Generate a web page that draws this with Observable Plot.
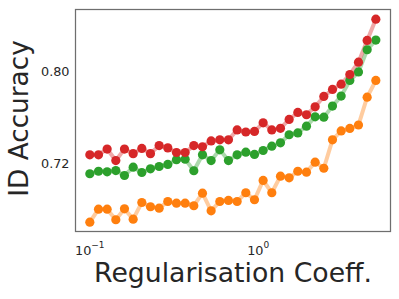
<!DOCTYPE html>
<html>
<head>
<meta charset="utf-8">
<script src="https://cdn.jsdelivr.net/npm/d3@7"></script>
<script src="https://cdn.jsdelivr.net/npm/@observablehq/plot@0.6"></script>
<style>
  html, body { margin: 0; padding: 0; background: white; }
</style>
</head>
<body>
<div id="chart"></div>
<script>
const coeffs = [0.1, 0.1126, 0.1267, 0.1427, 0.1606, 0.1809, 0.2036, 0.2292, 0.2581, 0.2905,
  0.3271, 0.3683, 0.4146, 0.4668, 0.5255, 0.5917, 0.6661, 0.7500, 0.8444, 0.9507,
  1.0703, 1.2050, 1.3567, 1.5275, 1.7197, 1.9362, 2.1799, 2.4543, 2.7632, 3.1110,
  3.5026, 3.9435, 4.4398, 5.0];
const redAcc = [0.728, 0.728, 0.733, 0.723, 0.733, 0.729, 0.7335, 0.729, 0.736, 0.734,
  0.730, 0.730, 0.736, 0.735, 0.740, 0.741, 0.741, 0.7496, 0.7478, 0.7483,
  0.7558, 0.7496, 0.751, 0.7587, 0.7648, 0.7628, 0.7697, 0.7787, 0.7848, 0.7894,
  0.7978, 0.8085, 0.8274, 0.8459];
const greenAcc = [0.7115, 0.7137, 0.7132, 0.7143, 0.710, 0.7172, 0.7126, 0.7158, 0.7178, 0.7196,
  0.7237, 0.7242, 0.7141, 0.728, 0.723, 0.7323, 0.723, 0.728, 0.7303, 0.7283,
  0.7317, 0.7355, 0.7384, 0.7454, 0.747, 0.7529, 0.761, 0.7607, 0.7703, 0.779,
  0.7926, 0.800, 0.8193, 0.8277];
const orangeAcc = [0.6694, 0.6807, 0.6807, 0.6715, 0.681, 0.672, 0.6865, 0.6828, 0.6816, 0.6874,
  0.6859, 0.6859, 0.6837, 0.6946, 0.6793, 0.6874, 0.6883, 0.6874, 0.695, 0.6889,
  0.7057, 0.695, 0.7094, 0.708, 0.7137, 0.7129, 0.7216, 0.7163, 0.741, 0.7487,
  0.7509, 0.7539, 0.7781, 0.7926];
const seriesNames = ["Series C", "Series B", "Series A"];
const seriesColors = ["#ff7f0e", "#2ca02c", "#d62728"];
const yTicks = [0.72, 0.80];
const xTicks = [0.1, 1];
const xLabel = "Regularisation Coeff.";
const yLabel = "ID Accuracy";
const seriesValues = [orangeAcc, greenAcc, redAcc];
const data = seriesNames.flatMap((s, k) => coeffs.map((c, i) => ({s, x: c, y: seriesValues[k][i]})));
const textColor = "#262626";

const chart = Plot.plot({
  width: 399, height: 299, marginLeft: 75, marginRight: 9, marginTop: 9, marginBottom: 68,
  style: {fontFamily: "'DejaVu Sans', sans-serif", background: "white", color: textColor},
  x: {type: "log", domain: [0.0822, 6.11]},
  y: {domain: [0.6613, 0.8543]},
  color: {type: "ordinal", domain: seriesNames, range: seriesColors},
  marks: [
    Plot.axisY({ticks: yTicks, tickSize: 0, tickPadding: 6, fontSize: 12.8, tickFormat: d3.format(".2f"), label: null}),
    Plot.axisX({ticks: xTicks, tickSize: 0, tickPadding: 14, fontSize: 12.8,
      tickFormat: d => "10^" + Math.round(Math.log10(d)), label: null}),
    Plot.line(data, {x: "x", y: "y", z: "s", stroke: "s", strokeWidth: 4, strokeOpacity: 0.4}),
    Plot.dot(data, {x: "x", y: "y", fill: "s", r: 4.6}),
    Plot.frame({stroke: "#6e6e6e", strokeWidth: 1.25}),
    Plot.text([yLabel], {frameAnchor: "left", dx: -56, dy: -2, rotate: -90, fontSize: 26.3, textAnchor: "middle", fill: textColor}),
    Plot.text([xLabel], {frameAnchor: "bottom", dy: 50, fontSize: 26.7, textAnchor: "middle", fill: textColor})
  ]
});
// Render the exponents of the log ticks as superscripts
chart.querySelectorAll('g[aria-label="x-axis tick label"] text').forEach(t => {
  const m = t.textContent.match(/^10\^(-?\d+)$/);
  if (!m) return;
  t.textContent = "";
  t.appendChild(document.createTextNode("10"));
  const sup = document.createElementNS("http://www.w3.org/2000/svg", "tspan");
  sup.setAttribute("dy", "-6.5");
  sup.setAttribute("font-size", "9");
  sup.textContent = m[1].replace("-", "\u2212");
  t.appendChild(sup);
});
document.getElementById("chart").appendChild(chart);
</script>
</body>
</html>
